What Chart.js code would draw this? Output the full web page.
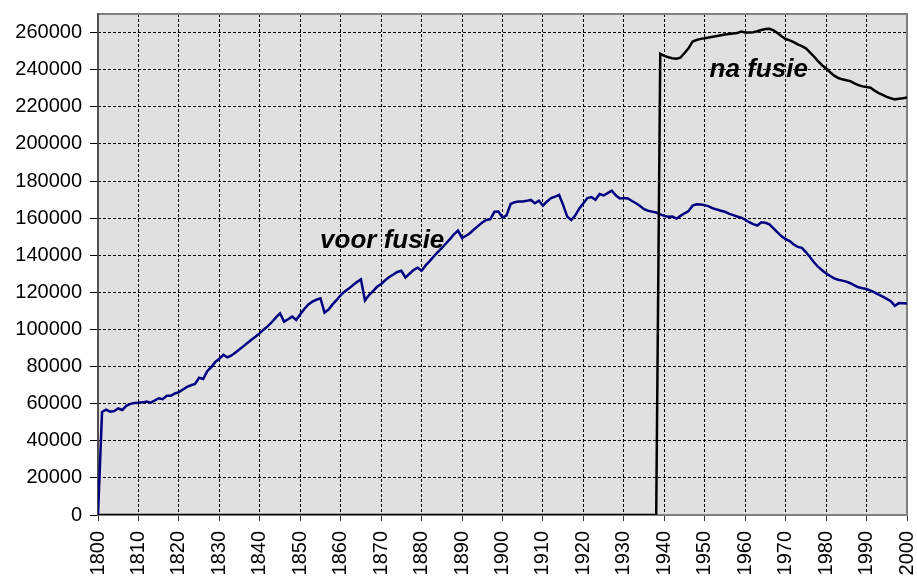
<!DOCTYPE html>
<html>
<head>
<meta charset="utf-8">
<script src="https://cdn.jsdelivr.net/npm/chart.js@4.4.1/dist/chart.umd.min.js"></script>
<style>
html,body{margin:0;padding:0;background:#fff;}
#c{display:block;}
</style>
</head>
<body>
<canvas id="c" width="917" height="578"></canvas>
<script>
const firstYear = 1800;
// "voor fusie" — population of the municipality before the merger, 1800..2000
const voorFusie = [
  0, 55500, 56800, 55700, 56000, 57400, 56600, 58800, 59900, 60300,
  60500, 60700, 61100, 60500, 61600, 62900, 62400, 64200, 64200, 65500,
  66200, 67600, 69000, 69900, 70600, 74000, 73300, 77500, 79700, 82500,
  84200, 86300, 85000, 86000, 87600, 89300, 91000, 92800, 94600, 96200,
  98000, 100000, 101800, 104000, 106500, 108700, 104200, 105500, 106900, 105100,
  108200, 111000, 113500, 115000, 116000, 116800, 109100, 110700, 113500, 115900,
  118500, 120500, 122000, 123800, 125500, 127000, 115600, 118500, 120700, 123000,
  124500, 126500, 128300, 129600, 131000, 131600, 128000, 130000, 132000, 133300,
  131600, 134500, 136800, 139300, 141700, 143900, 146300, 148700, 151300, 153300,
  149300, 150500, 152000, 154000, 155800, 157600, 159000, 159500, 163400, 163500,
  160300, 161500, 167600, 168600, 168900, 169000, 169300, 169800, 168000, 169400,
  166700, 169000, 170800, 171600, 172500, 167000, 160800, 159000, 161500, 165200,
  168000, 170800, 171300, 169900, 173000, 172200, 173500, 174800, 172300, 170600,
  170800, 170600, 169200, 168000, 166500, 164800, 164000, 163500, 163000, 162000,
  161200, 160700, 160800, 159700, 161200, 162600, 163800, 166700, 167400, 167300,
  167000, 166300, 165300, 164600, 164000, 163400, 162400, 161600, 160900, 160300,
  159200, 157800, 156800, 156000, 157800, 157500, 156600, 154500, 152300, 150200,
  148700, 147600, 145800, 144500, 144000, 141700, 139000, 136200, 133800, 131900,
  130200, 128800, 127500, 126800, 126300, 125800, 124900, 123800, 122700, 122200,
  121800, 120900, 120000, 118700, 117700, 116500, 115200, 112700, 114200, 114100,
  114000
];
// "na fusie" — population after the merger (0 before 1939), 1800..2000
const naFusie = [
  0,0,0,0,0,0,0,0,0,0, 0,0,0,0,0,0,0,0,0,0,
  0,0,0,0,0,0,0,0,0,0, 0,0,0,0,0,0,0,0,0,0,
  0,0,0,0,0,0,0,0,0,0, 0,0,0,0,0,0,0,0,0,0,
  0,0,0,0,0,0,0,0,0,0, 0,0,0,0,0,0,0,0,0,0,
  0,0,0,0,0,0,0,0,0,0, 0,0,0,0,0,0,0,0,0,0,
  0,0,0,0,0,0,0,0,0,0, 0,0,0,0,0,0,0,0,0,0,
  0,0,0,0,0,0,0,0,0,0, 0,0,0,0,0,0,0,0,0,
  248500, 247400, 246700, 246200, 245900, 246500, 249000, 251500, 255200, 256000, 256600,
  256900, 257300, 257700, 258100, 258500, 258900, 259200, 259500, 259700, 260500,
  260000, 260000, 260200, 260700, 261400, 261900, 262000, 261200, 259700, 258000,
  256500, 255800, 254800, 253600, 252700, 251500, 249300, 247100, 244600, 242400,
  240600, 238600, 236800, 235500, 234800, 234300, 233800, 232600, 231700, 231000,
  230700, 230300, 228700, 227400, 226400, 225300, 224600, 224000, 224300, 224600,
  225000
];
const years = voorFusie.map((_, i) => firstYear + i);
const xTicks = [1800,1810,1820,1830,1840,1850,1860,1870,1880,1890,1900,1910,1920,1930,1940,1950,1960,1970,1980,1990,2000];
const yTicks = [0,20000,40000,60000,80000,100000,120000,140000,160000,180000,200000,220000,240000,260000];
const annotations = [
  {text: 'voor fusie', x: 1854.9, y: 148000},
  {text: 'na fusie', x: 1951.2, y: 240000}
];

const FONT = '"Liberation Sans", Arial, sans-serif';

const bgPlugin = {
  id: 'bg',
  beforeDraw(chart) {
    const {ctx, chartArea: a} = chart;
    ctx.save();
    ctx.fillStyle = '#e0e0e0';
    ctx.fillRect(a.left, a.top, a.right - a.left, a.bottom - a.top);
    ctx.restore();
  },
  beforeDatasetsDraw(chart) {
    const {ctx, chartArea: a} = chart;
    ctx.save();
    ctx.strokeStyle = '#808080';
    ctx.lineWidth = 2;
    ctx.strokeRect(a.left, a.top, a.right - a.left, a.bottom - a.top);
    ctx.strokeStyle = '#505050';
    ctx.beginPath();
    ctx.moveTo(a.left, a.top - 1);
    ctx.lineTo(a.left, a.bottom + 1);
    ctx.stroke();
    ctx.restore();
  },
  afterDatasetsDraw(chart) {
    const {ctx, scales} = chart;
    ctx.save();
    ctx.fillStyle = '#000';
    ctx.font = 'italic bold 26px ' + FONT;
    ctx.textBaseline = 'middle';
    ctx.textAlign = 'left';
    annotations.forEach(an => {
      ctx.fillText(an.text, scales.x.getPixelForValue(an.x), scales.y.getPixelForValue(an.y));
    });
    ctx.restore();
  }
};

new Chart(document.getElementById('c'), {
  type: 'line',
  data: {
    datasets: [
      {
        label: 'na fusie',
        data: years.map((yr, i) => ({x: yr, y: naFusie[i]})),
        borderColor: '#000000',
        borderWidth: 2.5,
        pointRadius: 0,
        tension: 0,
        fill: false
      },
      {
        label: 'voor fusie',
        data: years.map((yr, i) => ({x: yr, y: voorFusie[i]})),
        borderColor: '#000080',
        borderWidth: 2.5,
        pointRadius: 0,
        tension: 0,
        fill: false
      }
    ]
  },
  options: {
    responsive: false,
    animation: false,
    layout: {padding: {top: 14, right: 10, left: 0, bottom: 0}},
    plugins: {legend: {display: false}, tooltip: {enabled: false}},
    scales: {
      x: {
        type: 'linear',
        min: 1800, max: 2000,
        afterBuildTicks(s) { s.ticks = xTicks.map(v => ({value: v})); },
        afterFit(s) { s.height = 63; s.paddingLeft = 0; s.paddingRight = 0; },
        grid: {color: '#000', lineWidth: 1, tickLength: 6, tickColor: '#333', tickBorderDash: []},
        border: {display: false, dash: [3, 2]},
        ticks: {
          autoSkip: false, minRotation: 90, maxRotation: 90, padding: 10,
          color: '#000', font: {family: FONT, size: 20},
          callback: v => String(v)
        }
      },
      y: {
        min: 0, max: 270000,
        afterBuildTicks(s) { s.ticks = yTicks.map(v => ({value: v})); },
        afterFit(s) { s.width = 98; s.paddingTop = 0; s.paddingBottom = 0; },
        grid: {color: '#000', lineWidth: 1, tickLength: 8, tickColor: '#000', tickBorderDash: []},
        border: {display: false, dash: [3, 2]},
        ticks: {
          padding: 8, color: '#000', font: {family: FONT, size: 20},
          callback: v => String(v)
        }
      }
    }
  },
  plugins: [bgPlugin]
});
</script>
</body>
</html>
